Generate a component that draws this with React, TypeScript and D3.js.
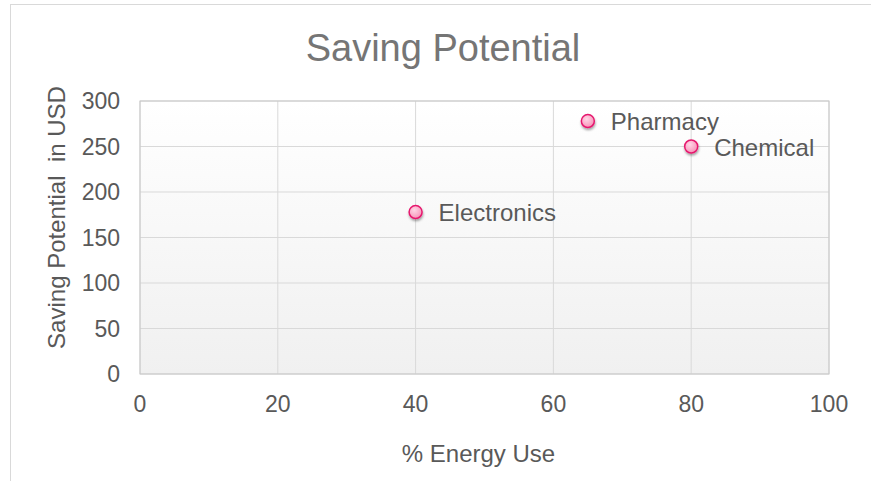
import React from "react";
import * as d3 from "d3";

const names = ["Electronics", "Pharmacy", "Chemical"];
const energyUse = [40, 65, 80];
const savings = [178, 278, 250];
const xTicks = [0, 20, 40, 60, 80, 100];
const yTicks = [0, 50, 100, 150, 200, 250, 300];

export default function App() {
  const W = 871, H = 481;
  const m = { left: 140, right: 871 - 829, top: 101, bottom: 481 - 374 };
  const x = d3.scaleLinear().domain([0, 100]).range([m.left, W - m.right]);
  const y = d3.scaleLinear().domain([0, 300]).range([H - m.bottom, m.top]);
  const font = "'Liberation Sans', Arial, sans-serif";
  const tc = "#595959";
  return (
    <svg width={W} height={H} style={{ position: "absolute", left: 0, top: 0 }} fontFamily={font}>
      <defs>
        <linearGradient id="bg" x1="0" y1="0" x2="0" y2="1">
          <stop offset="0" stopColor="#ffffff" />
          <stop offset="1" stopColor="#f0f0f0" />
        </linearGradient>
        <radialGradient id="mk" cx="0.4" cy="0.35" r="0.7">
          <stop offset="0" stopColor="#ffd6e6" />
          <stop offset="1" stopColor="#f78fb6" />
        </radialGradient>
        <filter id="sh" x="-50%" y="-50%" width="200%" height="200%">
          <feDropShadow dx="0.5" dy="2" stdDeviation="1.2" floodColor="#000" floodOpacity="0.35" />
        </filter>
      </defs>
      <rect x={0} y={0} width={W} height={H} fill="#fff" />
      <rect x={10.5} y={4.5} width={W} height={H} fill="#fff" stroke="#d9d9d9" strokeWidth={1} />
      <text x={443} y={61} textAnchor="middle" fontSize={38} fill="#757575">Saving Potential</text>
      <rect x={x(0)} y={y(300)} width={x(100) - x(0)} height={y(0) - y(300)} fill="url(#bg)" />
      {xTicks.map((t) => (
        <line key={"gx" + t} x1={x(t)} x2={x(t)} y1={y(0)} y2={y(300)} stroke="#d9d9d9" strokeWidth={1} />
      ))}
      {yTicks.map((t) => (
        <line key={"gy" + t} x1={x(0)} x2={x(100)} y1={y(t)} y2={y(t)} stroke="#d9d9d9" strokeWidth={1} />
      ))}
      <rect x={x(0)} y={y(300)} width={x(100) - x(0)} height={y(0) - y(300)} fill="none" stroke="#c8c8c8" strokeWidth={1} />
      {xTicks.map((t) => (
        <text key={"tx" + t} x={x(t)} y={y(0) + 38} textAnchor="middle" fontSize={23} fill={tc}>{t}</text>
      ))}
      {yTicks.map((t) => (
        <text key={"ty" + t} x={x(0) - 20} y={y(t) + 8} textAnchor="end" fontSize={23} fill={tc}>{t}</text>
      ))}
      <text x={478.5} y={462} textAnchor="middle" fontSize={24} fill={tc}>% Energy Use</text>
      <text transform={`translate(65,217.5) rotate(-90)`} textAnchor="middle" fontSize={24} fill={tc} style={{ whiteSpace: "pre" }}>{"Saving Potential  in USD"}</text>
      {names.map((n, i) => (
        <g key={n}>
          <circle cx={x(energyUse[i])} cy={y(savings[i])} r={6.5} fill="url(#mk)" stroke="#e6196e" strokeWidth={1.5} filter="url(#sh)" />
          <text x={x(energyUse[i]) + 23} y={y(savings[i]) + 9} fontSize={24} fill={tc}>{n}</text>
        </g>
      ))}
    </svg>
  );
}
